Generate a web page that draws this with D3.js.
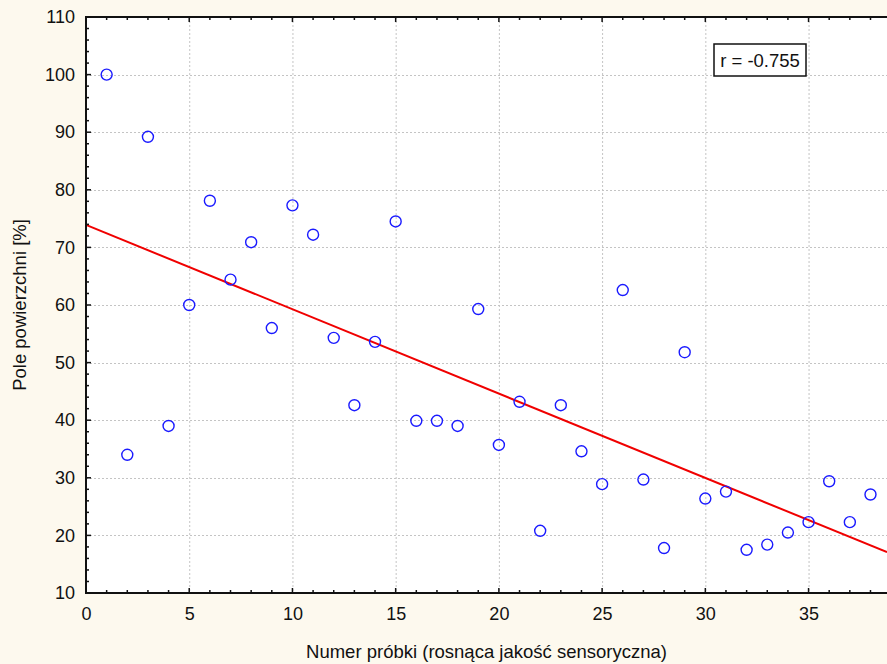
<!DOCTYPE html>
<html>
<head>
<meta charset="utf-8">
<script src="https://cdn.jsdelivr.net/npm/d3@7"></script>
<style>
  html, body { margin: 0; padding: 0; background: #fdf9ee; }
  svg { display: block; font-family: "Liberation Sans", Arial, sans-serif; }
</style>
</head>
<body>
<svg id="chart" width="887" height="664"></svg>
<script>
// sample number (1..38) and surface area [%]
const sampleNo = d3.range(1, 39);
const surfaceArea = [
  100, 34, 89.2, 39, 60, 78.1, 64.4, 70.9, 56, 77.3,
  72.2, 54.3, 42.6, 53.6, 74.5, 39.9, 39.9, 39, 59.3, 35.7,
  43.2, 20.8, 42.6, 34.6, 28.9, 62.6, 29.7, 17.8, 51.8, 26.4,
  27.6, 17.5, 18.4, 20.5, 22.3, 29.4, 22.3, 27.1
];
const xTicks = [0, 5, 10, 15, 20, 25, 30, 35];
const yTicks = [10, 20, 30, 40, 50, 60, 70, 80, 90, 100, 110];
const rLabel = "r = -0.755";

const width = 887, height = 664;
const margin = { left: 86, top: 17, right: 0, bottom: 71 };
const svg = d3.select("#chart");

const x = d3.scaleLinear().domain([0, 38.8]).range([margin.left, width - margin.right]);
const y = d3.scaleLinear().domain([10, 110]).range([height - margin.bottom, margin.top]);

// white plot area
svg.append("rect")
  .attr("x", x(0)).attr("y", y(110))
  .attr("width", x(38.8) - x(0)).attr("height", y(10) - y(110))
  .attr("fill", "#fff");

// dotted grid
const grid = svg.append("g").attr("stroke", "#c4c4c4").attr("stroke-dasharray", "2,2").attr("stroke-width", 1);
grid.selectAll("line.v").data(xTicks.filter(d => d > 0)).enter().append("line")
  .attr("x1", d => x(d) + 0.5).attr("x2", d => x(d) + 0.5)
  .attr("y1", y(110)).attr("y2", y(10));
grid.selectAll("line.h").data(yTicks.filter(d => d > 10 && d < 110)).enter().append("line")
  .attr("y1", d => Math.round(y(d)) + 0.5).attr("y2", d => Math.round(y(d)) + 0.5)
  .attr("x1", x(0)).attr("x2", width);

// regression line (least squares from the data)
const mx = d3.mean(sampleNo), my = d3.mean(surfaceArea);
const sxy = d3.sum(sampleNo, (d, i) => (d - mx) * (surfaceArea[i] - my));
const sxx = d3.sum(sampleNo, d => (d - mx) * (d - mx));
const slope = sxy / sxx, intercept = my - slope * mx;
const fit = [0, 38.8].map(v => [v, intercept + slope * v]);

svg.append("path")
  .datum(fit)
  .attr("fill", "none")
  .attr("stroke", "#f00000")
  .attr("stroke-width", 2)
  .attr("d", d3.line().x(d => x(d[0])).y(d => y(d[1])));

// points
svg.append("g").selectAll("circle")
  .data(sampleNo.map((d, i) => [d, surfaceArea[i]]))
  .enter().append("circle")
  .attr("cx", d => x(d[0]))
  .attr("cy", d => y(d[1]))
  .attr("r", 5.5)
  .attr("fill", "none")
  .attr("stroke", "#1a1aff")
  .attr("stroke-width", 1.4);

// axes
const xAxis = d3.axisBottom(x).tickValues(xTicks).tickSize(0).tickPadding(14).tickFormat(d3.format("d"));
const yAxis = d3.axisLeft(y).tickValues(yTicks).tickSize(0).tickPadding(11).tickFormat(d3.format("d"));

const gx = svg.append("g").attr("transform", `translate(0,${y(10)})`).call(xAxis);
const gy = svg.append("g").attr("transform", `translate(${x(0)},0)`).call(yAxis);
[gx, gy].forEach(g => {
  g.select(".domain").remove();
  g.selectAll("text").attr("font-size", 18).attr("fill", "#111").attr("font-family", "Liberation Sans, Arial, sans-serif");
});

// axis frame lines (left, bottom, top)
const frame = svg.append("g").attr("stroke", "#111").attr("stroke-width", 2);
frame.append("line").attr("x1", x(0)).attr("x2", width).attr("y1", y(10)).attr("y2", y(10));
frame.append("line").attr("x1", x(0)).attr("x2", width).attr("y1", y(110)).attr("y2", y(110));
frame.append("line").attr("x1", x(0)).attr("x2", x(0)).attr("y1", y(110) - 1).attr("y2", y(10) + 1);

// ticks: major on grid values, minor in between
const ticks = svg.append("g").attr("stroke", "#111").attr("stroke-width", 1.5);
const xMinor = d3.range(0, 39, 1);
const yMinor = d3.range(10, 111, 2);
ticks.selectAll("line.xb").data(xMinor).enter().append("line")
  .attr("x1", d => x(d)).attr("x2", d => x(d))
  .attr("y1", y(10)).attr("y2", d => y(10) - (d % 5 === 0 ? 5 : 3));
ticks.selectAll("line.xt").data(xMinor).enter().append("line")
  .attr("x1", d => x(d)).attr("x2", d => x(d))
  .attr("y1", y(110)).attr("y2", d => y(110) + (d % 5 === 0 ? 5 : 3));
ticks.selectAll("line.yl").data(yMinor).enter().append("line")
  .attr("y1", d => y(d)).attr("y2", d => y(d))
  .attr("x1", x(0)).attr("x2", d => x(0) + (d % 10 === 0 ? 5 : 3));

// axis titles
svg.append("text")
  .attr("x", (x(0) + width) / 2)
  .attr("y", 658)
  .attr("text-anchor", "middle")
  .attr("font-size", 18.5)
  .attr("fill", "#111")
  .text("Numer próbki (rosnąca jakość sensoryczna)");

svg.append("text")
  .attr("transform", "translate(26,305) rotate(-90)")
  .attr("text-anchor", "middle")
  .attr("font-size", 18.5)
  .attr("fill", "#111")
  .text("Pole powierzchni [%]");

// correlation box
const box = svg.append("g").attr("transform", "translate(714,44)");
box.append("rect")
  .attr("width", 92).attr("height", 32)
  .attr("fill", "#fff").attr("stroke", "#111").attr("stroke-width", 1.5);
box.append("text")
  .attr("x", 46).attr("y", 23)
  .attr("text-anchor", "middle")
  .attr("font-size", 18.5)
  .attr("fill", "#111")
  .text(rLabel);
</script>
</body>
</html>
